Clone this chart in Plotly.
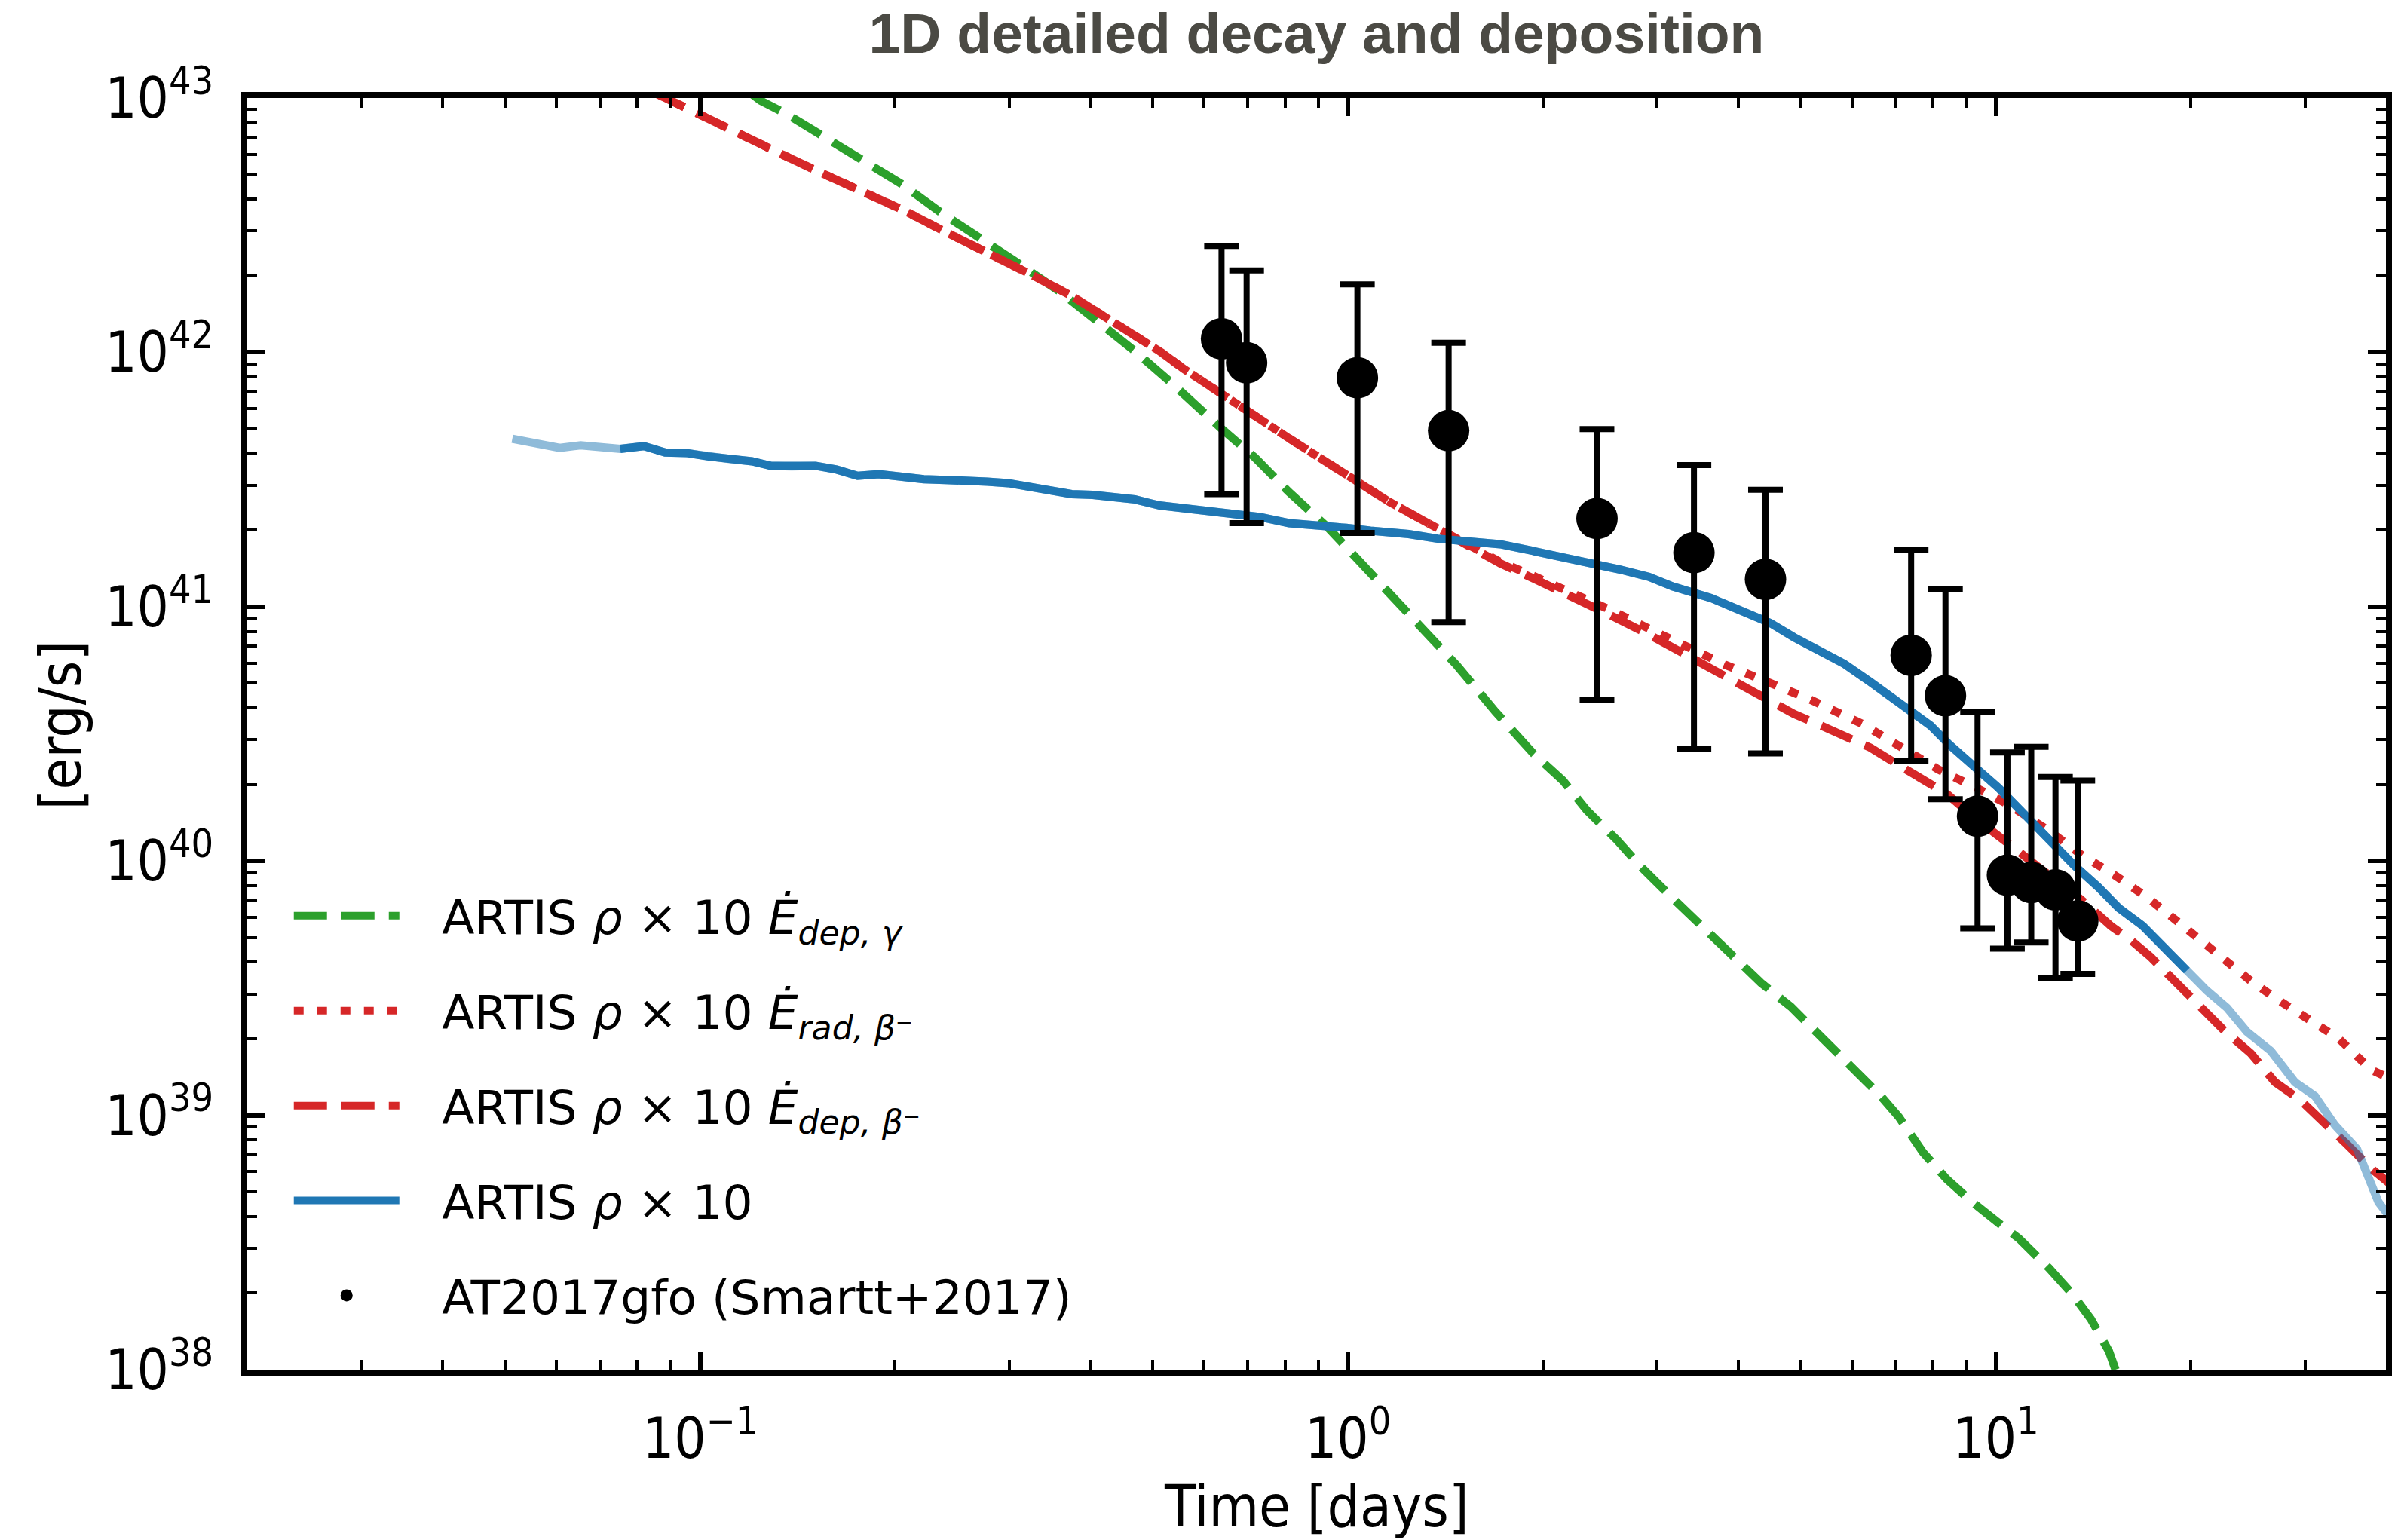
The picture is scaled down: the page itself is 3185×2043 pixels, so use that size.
import numpy as np
import plotly.graph_objects as go

# ---------------- data ----------------
gamma_t = [0.120, 0.1239, 0.136, 0.152, 0.1767, 0.2055, 0.2344, 0.2723, 0.3105, 0.3606,
           0.411, 0.469, 0.535, 0.598, 0.6384, 0.719, 0.811, 0.929, 1.029, 1.159,
           1.306, 1.472, 1.688, 1.934, 2.147, 2.338, 2.601, 2.833, 3.151, 3.505,
           3.899, 4.339, 4.827, 5.37, 5.974, 6.645, 7.085, 7.716, 8.40, 9.15,
           10.18, 10.85, 12.07, 13.15, 14.02, 14.95, 15.3]
gamma_L = [1.04e43, 9.77e42, 8.65e42, 7.31e42, 5.82e42, 4.56e42, 3.57e42, 2.81e42, 2.23e42, 1.72e42,
           1.33e42, 1.01e42, 7.55e41, 5.74e41, 5.00e41, 3.85e41, 2.82e41, 2.06e41, 1.56e41, 1.14e41,
           8.05e40, 5.88e40, 3.87e40, 2.64e40, 2.07e40, 1.58e40, 1.21e40, 9.48e39, 7.25e39, 5.55e39,
           4.35e39, 3.32e39, 2.67e39, 2.04e39, 1.56e39, 1.19e39, 9.84e38, 7.16e38, 5.61e38, 4.61e38,
           3.71e38, 3.28e38, 2.51e38, 1.97e38, 1.58e38, 1.18e38, 1.0e38]

betadep_t = [0.085, 0.0900, 0.1007, 0.1127, 0.132, 0.152, 0.1767, 0.2055, 0.2388, 0.2775,
             0.322, 0.374, 0.419, 0.4615, 0.512, 0.5584, 0.6494, 0.719, 0.811, 0.913,
             1.029, 1.159, 1.329, 1.523, 1.717, 1.934, 2.217, 2.542, 2.913, 3.339,
             3.826, 4.483, 4.884, 5.394, 5.875, 6.40, 6.970, 7.70, 8.39, 9.27,
             9.95, 10.84, 11.81, 12.86, 13.81, 15.04, 16.15, 17.34, 18.89, 20.57,
             22.41, 24.76, 26.97, 29.37, 31.99, 34.84, 37.95, 39.61, 40.5]
betadep_L = [1.05e43, 9.77e42, 8.51e42, 7.31e42, 6.10e42, 5.15e42, 4.36e42, 3.63e42, 2.98e42, 2.48e42,
             2.04e42, 1.67e42, 1.39e42, 1.20e42, 1.01e42, 8.59e41, 6.61e41, 5.65e41, 4.59e41, 3.79e41,
             3.13e41, 2.58e41, 2.13e41, 1.76e41, 1.48e41, 1.29e41, 1.10e41, 9.25e40, 7.77e40, 6.41e40,
             5.39e40, 4.31e40, 3.78e40, 3.39e40, 3.10e40, 2.79e40, 2.44e40, 2.10e40, 1.84e40, 1.48e40,
             1.30e40, 1.09e40, 9.18e39, 7.87e39, 6.76e39, 5.56e39, 4.89e39, 4.19e39, 3.37e39, 2.71e39,
             2.18e39, 1.75e39, 1.35e39, 1.16e39, 9.55e38, 7.68e38, 6.18e38, 5.66e38, 5.4e38]

betarad_t = [0.085, 0.0900, 0.1007, 0.1127, 0.132, 0.152, 0.1767, 0.2055, 0.2388, 0.2775,
             0.322, 0.374, 0.419, 0.4615, 0.512, 0.5584, 0.6494, 0.719, 0.811, 0.913,
             1.029, 1.159, 1.329, 1.523, 1.717, 1.934, 2.217, 2.542, 2.913, 3.339,
             3.826, 4.483, 5.17, 6.22, 6.87, 8.15, 9.40, 10.53, 12.15, 13.61,
             15.26, 17.09, 19.44, 22.10, 24.76, 27.35, 31.09, 33.86, 37.95, 40.5]
betarad_L = [1.05e43, 9.77e42, 8.51e42, 7.31e42, 6.10e42, 5.15e42, 4.36e42, 3.63e42, 2.98e42, 2.48e42,
             2.04e42, 1.67e42, 1.39e42, 1.20e42, 1.01e42, 8.59e41, 6.61e41, 5.65e41, 4.59e41, 3.79e41,
             3.13e41, 2.58e41, 2.13e41, 1.76e41, 1.50e41, 1.32e41, 1.14e41, 9.7e40, 8.2e40, 6.9e40,
             5.9e40, 5.01e40, 4.31e40, 3.46e40, 2.97e40, 2.29e40, 1.92e40, 1.65e40, 1.30e40, 1.05e40,
             8.79e39, 7.22e39, 5.56e39, 4.28e39, 3.37e39, 2.83e39, 2.28e39, 2.00e39, 1.51e39, 1.40e39]

total_t = [0.0513, 0.0552, 0.0607, 0.0654, 0.0705, 0.0753, 0.0819, 0.0883, 0.0952, 0.1026,
           0.1106, 0.1202, 0.1285, 0.1385, 0.1507, 0.1624, 0.175, 0.1888, 0.2055, 0.2214,
           0.2388, 0.2572, 0.2775, 0.299, 0.322, 0.3475, 0.3745, 0.4036, 0.469, 0.512,
           0.547, 0.596, 0.672, 0.732, 0.811, 0.913, 0.9945, 1.083, 1.241, 1.375,
           1.523, 1.717, 1.901, 2.143, 2.374, 2.630, 2.913, 3.172, 3.636, 3.961,
           4.483, 4.884, 5.394, 5.834, 6.40, 7.171, 7.925, 8.51, 9.40, 10.09,
           10.84, 11.47, 12.15, 13.23, 14.41, 15.48, 16.85, 18.36, 19.71, 21.17,
           22.73, 24.41, 26.58, 28.95, 31.09, 33.38, 36.10, 37.41, 38.95, 40.5]
total_L = [4.57e41, 4.44e41, 4.21e41, 4.31e41, 4.21e41, 4.17e41, 4.28e41, 4.04e41, 4.02e41, 3.90e41,
           3.81e41, 3.73e41, 3.58e41, 3.56e41, 3.58e41, 3.46e41, 3.27e41, 3.32e41, 3.22e41, 3.17e41,
           3.15e41, 3.15e41, 3.10e41, 3.06e41, 2.97e41, 2.90e41, 2.77e41, 2.75e41, 2.64e41, 2.50e41,
           2.46e41, 2.38e41, 2.30e41, 2.25e41, 2.13e41, 2.10e41, 2.04e41, 1.99e41, 1.93e41, 1.85e41,
           1.81e41, 1.76e41, 1.67e41, 1.57e41, 1.49e41, 1.40e41, 1.31e41, 1.20e41, 1.08e41, 9.80e40,
           8.63e40, 7.57e40, 6.64e40, 5.96e40, 5.06e40, 4.12e40, 3.41e40, 2.84e40, 2.29e40, 1.94e40,
           1.61e40, 1.39e40, 1.19e40, 9.58e39, 7.87e39, 6.53e39, 5.56e39, 4.47e39, 3.71e39, 3.09e39,
           2.65e39, 2.13e39, 1.79e39, 1.35e39, 1.19e39, 9.14e38, 7.36e38, 5.92e38, 4.56e38, 4.0e38]
total_reliable = (0.075, 19.8)   # time window drawn at full opacity

obs_t = [0.638, 0.6975, 1.034, 1.430, 2.423, 3.420, 4.41, 7.40, 8.36, 9.37, 10.42, 11.34, 12.36, 13.38]
obs_L = [1.13e42, 9.10e41, 7.94e41, 4.92e41, 2.22e41, 1.63e41, 1.28e41, 6.44e40, 4.46e40, 1.50e40,
         8.79e39, 8.23e39, 7.70e39, 5.81e39]
obs_hi = [2.62e42, 2.10e42, 1.85e42, 1.09e42, 4.99e41, 3.60e41, 2.88e41, 1.67e41, 1.17e41, 3.86e40,
          2.67e40, 2.81e40, 2.14e40, 2.07e40]
obs_lo = [2.77e41, 2.13e41, 1.95e41, 8.69e40, 4.30e40, 2.77e40, 2.65e40, 2.47e40, 1.75e40, 5.44e39,
          4.52e39, 4.78e39, 3.47e39, 3.60e39]

x_tickvals = [0.1, 1, 10]
x_ticktext = ["10<sup>\u22121</sup>", "10<sup>0</sup>", "10<sup>1</sup>"]
y_tickvals = [1e38, 1e39, 1e40, 1e41, 1e42, 1e43]
y_ticktext = ["10<sup>38</sup>", "10<sup>39</sup>", "10<sup>40</sup>", "10<sup>41</sup>",
              "10<sup>42</sup>", "10<sup>43</sup>"]

PAD = "\u2002\u00a0"   # gap between legend handle and legend text
labels = {
    "gamma": PAD + "ARTIS <i>\u03c1</i> \u00d7 10 <i>\u0116</i><sub><i>dep, \u03b3</i></sub>",
    "betarad": PAD + "ARTIS <i>\u03c1</i> \u00d7 10 <i>\u0116</i><sub><i>rad, \u03b2</i>\u207b</sub>",
    "betadep": PAD + "ARTIS <i>\u03c1</i> \u00d7 10 <i>\u0116</i><sub><i>dep, \u03b2</i>\u207b</sub>",
    "total": PAD + "ARTIS <i>\u03c1</i> \u00d7 10",
    "obs": PAD + "AT2017gfo (Smartt+2017)",
}

# ---------------- figure ----------------
GREEN = "#2ca02c"
RED = "#d62728"
BLUE = "#1f77b4"
LW = 11

fig = go.Figure()

fig.add_trace(go.Scatter(x=gamma_t, y=gamma_L, mode="lines", name=labels["gamma"],
                         line=dict(color=GREEN, width=LW, dash="44px,19px"), legendgroup="g1"))
fig.add_trace(go.Scatter(x=betarad_t, y=betarad_L, mode="lines", name=labels["betarad"],
                         line=dict(color=RED, width=LW, dash="13px,18px"), legendgroup="g2"))
fig.add_trace(go.Scatter(x=betadep_t, y=betadep_L, mode="lines", name=labels["betadep"],
                         line=dict(color=RED, width=LW, dash="44px,19px"), legendgroup="g3"))
# full curve, translucent
fig.add_trace(go.Scatter(x=total_t, y=total_L, mode="lines", showlegend=False,
                         line=dict(color="rgba(31,119,180,0.5)", width=LW), hoverinfo="skip"))
# reliable window, opaque
tt = np.array(total_t)
LL = np.array(total_L)
sel = (tt >= total_reliable[0]) & (tt <= total_reliable[1])
fig.add_trace(go.Scatter(x=tt[sel], y=LL[sel], mode="lines", name=labels["total"],
                         line=dict(color=BLUE, width=LW), legendgroup="g4"))

oL = np.array(obs_L)
fig.add_trace(go.Scatter(
    x=obs_t, y=obs_L, mode="markers", name=labels["obs"], legendgroup="g5",
    marker=dict(color="black", size=55, symbol="circle"),
    error_y=dict(type="data", symmetric=False,
                 array=list(np.array(obs_hi) - oL), arrayminus=list(oL - np.array(obs_lo)),
                 color="black", thickness=8, width=23),
))

TICKFONT = dict(family="DejaVu Sans Condensed, DejaVu Sans", size=74, color="black")
axis_common = dict(
    type="log", showgrid=False, zeroline=False,
    showline=True, linecolor="black", linewidth=8, mirror="allticks",
    ticks="inside", ticklen=24, tickwidth=6, tickcolor="black",
    tickfont=TICKFONT, tickmode="array",
    minor=dict(ticks="inside", ticklen=13, tickwidth=4, tickcolor="black",
               tickmode="linear", dtick="D1", showgrid=False),
)

fig.update_xaxes(range=[np.log10(0.02), np.log10(40)], tickvals=x_tickvals, ticktext=x_ticktext,
                 ticklabelstandoff=20, **axis_common)
fig.update_yaxes(range=[38, 43], tickvals=y_tickvals, ticktext=y_ticktext,
                 ticklabelstandoff=22, **axis_common)

fig.update_layout(
    width=3185, height=2043, autosize=False,
    margin=dict(l=328, r=18, t=130, b=226, pad=0),
    paper_bgcolor="white", plot_bgcolor="white",
    title=dict(text="<b>1D detailed decay and deposition</b>",
               font=dict(family="Liberation Sans, Arial, sans-serif", size=75, color="#4b4a44"),
               x=0.5, xref="paper", xanchor="center", y=0.9785, yref="container", yanchor="middle"),
    legend=dict(x=0.02, xanchor="left", y=0.03, yanchor="bottom",
                bgcolor="rgba(0,0,0,0)", borderwidth=0,
                font=dict(family="DejaVu Sans", size=63, color="black"),
                itemwidth=140, tracegroupgap=41, traceorder="grouped"),
    showlegend=True,
    annotations=[
        dict(text="Time [days]", xref="paper", yref="paper", x=0.5, y=(1817 - 1998) / 1687,
             xanchor="center", yanchor="middle", showarrow=False,
             font=dict(family="DejaVu Sans Condensed, DejaVu Sans", size=76, color="black")),
        dict(text="[erg/s]", xref="paper", yref="paper", x=(80 - 328) / 2839, y=(1817 - 962) / 1687,
             xanchor="center", yanchor="middle", showarrow=False, textangle=-90,
             font=dict(family="DejaVu Sans Condensed, DejaVu Sans", size=76, color="black")),
    ],
)

fig.write_html("out.html")
